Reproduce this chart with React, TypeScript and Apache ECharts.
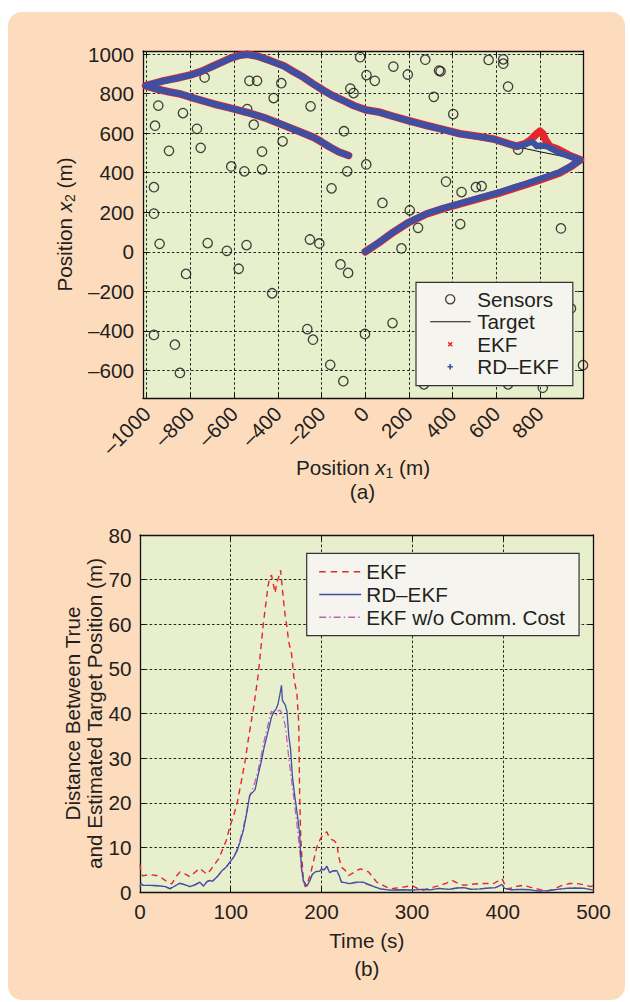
import React, { useEffect, useRef } from 'react';
import * as echarts from 'echarts';

// ---------- Panel (a): sensor field and trajectories ----------
const SENSORS: [number, number][] = [
  [-23, 985], [-735, 882], [-530, 865], [-495, 865], [-384, 853], [6, 894], [44, 865],
  [-68, 826], [-53, 803], [-947, 740], [-834, 702], [-419, 778], [-250, 736], [-540, 722],
  [-962, 638], [-770, 622], [-510, 643], [-97, 610], [-898, 511], [-753, 526], [-378, 559],
  [-472, 507], [-613, 432], [-553, 407], [-472, 417], [5, 442], [-82, 407], [-967, 327],
  [-154, 321], [-967, 193], [79, 247], [-941, 40], [-721, 44], [-633, 5], [-543, 34],
  [-253, 62], [-210, 42], [-113, -64], [-579, -86], [-820, -112], [-78, -107], [-426, -210],
  [-967, -421], [-871, -470], [-848, -613], [-265, -391], [-239, -445], [-160, -572],
  [-100, -655], [-1, -416], [129, 937], [275, 972], [195, 897], [338, 917], [345, 913],
  [565, 971], [632, 974], [632, 952], [654, 836], [314, 784], [403, 697], [700, 517],
  [370, 355], [441, 302], [507, 327], [533, 332], [204, 210], [242, 121], [435, 140],
  [896, 118], [166, 17], [125, -361], [942, -287], [997, -574], [269, -671], [654, -671],
  [813, -688],
];

const TARGET: [number, number][] = [
  [0, 0], [60, 45], [129, 100], [200, 150], [282, 193], [360, 222], [434, 244], [520, 272],
  [616, 302], [680, 325], [738, 345], [800, 370], [890, 403], [940, 432], [985, 465],
  [900, 484], [800, 506], [700, 530], [640, 550], [586, 570], [520, 582], [434, 596],
  [360, 617], [282, 638], [200, 662], [129, 684], [68, 705], [0, 718], [-50, 738],
  [-99, 764], [-150, 790], [-190, 815], [-240, 850], [-282, 882], [-330, 912], [-373, 940],
  [-434, 966], [-490, 988], [-540, 999], [-580, 992], [-616, 979], [-693, 940], [-750, 912],
  [-799, 894], [-860, 878], [-920, 865], [-970, 850], [-1005, 840], [-950, 822], [-900, 810],
  [-845, 798], [-770, 773], [-693, 748], [-620, 728], [-540, 705], [-460, 678], [-388, 647],
  [-310, 612], [-236, 579], [-200, 556], [-160, 529], [-120, 505], [-76, 487],
];

const EKF_TRACK: [number, number][] = [
  [0, 0], [60, 44], [129, 99], [200, 149], [282, 192], [360, 220], [434, 242], [520, 269],
  [616, 298], [680, 321], [738, 341], [800, 364], [890, 399], [940, 430], [985, 465],
  [930, 490], [880, 520], [845, 533], [825, 566], [812, 598], [800, 610], [788, 600],
  [775, 586], [755, 564], [732, 547], [693, 534], [640, 552], [586, 571], [520, 583],
  [434, 597], [360, 618], [282, 639], [200, 663], [129, 685], [68, 706], [0, 719],
  [-50, 739], [-99, 765], [-150, 791], [-190, 816], [-240, 851], [-282, 883], [-330, 913],
  [-373, 941], [-434, 967], [-490, 989], [-540, 1000], [-580, 993], [-616, 980], [-693, 941],
  [-750, 913], [-799, 895], [-860, 879], [-920, 866], [-970, 851], [-1005, 840], [-950, 822],
  [-900, 810], [-845, 798], [-770, 773], [-693, 748], [-620, 728], [-540, 705], [-460, 678],
  [-388, 647], [-310, 612], [-236, 579], [-200, 556], [-160, 529], [-120, 505], [-76, 487],
];

const RDEKF_TRACK: [number, number][] = [
  [0, 0], [60, 45], [129, 100], [200, 150], [282, 193], [360, 222], [434, 244], [520, 272],
  [616, 302], [680, 325], [738, 345], [800, 369], [890, 402], [940, 432], [985, 465],
  [930, 486], [892, 500], [860, 518], [831, 534], [800, 537], [786, 534], [772, 550],
  [763, 556], [750, 552], [740, 547], [700, 533], [640, 551], [586, 570], [520, 582],
  [434, 596], [360, 617], [282, 638], [200, 662], [129, 684], [68, 705], [0, 718],
  [-50, 738], [-99, 764], [-150, 790], [-190, 815], [-240, 850], [-282, 882], [-330, 912],
  [-373, 940], [-434, 966], [-490, 988], [-540, 999], [-580, 992], [-616, 979], [-693, 940],
  [-750, 912], [-799, 894], [-860, 878], [-920, 865], [-970, 850], [-1005, 840], [-950, 822],
  [-900, 810], [-845, 798], [-770, 773], [-693, 748], [-620, 728], [-540, 705], [-460, 678],
  [-388, 647], [-310, 612], [-236, 579], [-200, 556], [-160, 529], [-120, 505], [-76, 487],
];

const X1_TICKS = [-1000, -800, -600, -400, -200, 0, 200, 400, 600, 800];
const X2_TICKS = [-600, -400, -200, 0, 200, 400, 600, 800, 1000];

// ---------- Panel (b): distance error over time ----------
const ERR_EKF: [number, number][] = [
  [0, 6.2], [1, 4.5], [3, 3.6], [10, 3.9], [18, 3.7], [25, 3.0], [30, 2.3], [35, 1.8], [40, 3.5],
  [44, 4.5], [50, 4.0], [55, 3.4], [60, 4.3], [66, 5.3], [70, 4.6], [74, 4.0], [78, 5.0], [83, 6.4],
  [87, 7.5], [90, 9], [95, 11.5], [99, 14.6], [103, 17], [107, 19.8], [111, 24], [116, 29.5],
  [120, 35], [125, 41], [130, 48.2], [133, 54], [136, 60.2], [139, 65], [141, 68.4], [143, 70.5],
  [145, 71], [147, 69], [149, 67], [151, 69.5], [152.5, 70.3], [155, 72.1], [156, 70], [158, 65.8],
  [160, 62], [162, 59.4], [164, 56], [167, 53.5], [170, 47.5], [173, 44.5], [175, 38], [176, 22],
  [177, 14], [178, 9.3], [180, 3], [182, 1.2], [184, 1.5], [187, 3.5], [189, 4.9], [192, 7.5],
  [195, 10.1], [198, 11.5], [200, 12.3], [203, 13], [206, 13.5], [208, 12.5], [211, 11.8],
  [214, 11.5], [217, 10.9], [219, 8], [222, 5.6], [226, 4.9], [230, 3.7], [235, 4.3], [240, 4.9],
  [243, 5.2], [247, 4.9], [252, 4.5], [256, 3.5], [261, 2.2], [268, 1.5], [276, 0.7], [283, 0.9],
  [290, 1.1], [296, 1.3], [301, 1.3], [306, 0.8], [312, 0.4], [320, 0.9], [331, 1.5], [338, 2.0],
  [344, 2.6], [350, 2.0], [357, 1.5], [365, 1.7], [375, 1.9], [383, 1.9], [390, 1.9], [395, 2.5],
  [399, 3.0], [402, 1.8], [404, 0.7], [410, 0.9], [416, 1.3], [423, 1.5], [430, 1.1], [440, 0.6],
  [448, 0.2], [455, 0.5], [462, 1.2], [466, 1.5], [474, 1.9], [481, 1.9], [490, 1.6], [497, 1.2],
  [500, 1.5],
];

const ERR_RDEKF: [number, number][] = [
  [0, 1.2], [1, 2.0], [3, 1.5], [10, 1.5], [20, 1.4], [28, 1.2], [33, 0.7], [38, 1.3], [44, 2.0],
  [50, 1.6], [55, 1.2], [60, 1.6], [66, 2.2], [70, 1.3], [74, 2.4], [77, 2.6], [80, 2.4], [85, 3.4],
  [90, 4.7], [95, 5.6], [99, 6.7], [103, 7.7], [107, 9.2], [110, 11], [114, 13.8], [118, 18],
  [121, 21.7], [125, 22.5], [127, 23], [130, 26], [134, 29.5], [137, 32.5], [140, 35], [143, 37.5],
  [145, 39.2], [148, 40.5], [150, 41], [152, 42], [154, 44], [156, 46.3], [157, 43], [158, 42.6],
  [160, 42], [162, 40.5], [164, 35], [166, 32], [168, 26], [170, 22.5], [172, 19.5], [174, 16.5],
  [176, 13], [177, 9], [178, 5.6], [180, 2.6], [182, 2], [184, 1.3], [187, 2.4], [190, 4],
  [194, 4.6], [198, 4.6], [200, 5.2], [203, 5.0], [206, 5.8], [209, 4.3], [213, 4.8], [217, 4.8],
  [220, 3.5], [222, 2.2], [226, 2.1], [231, 1.9], [238, 2.2], [246, 2.2], [252, 1.7], [258, 1.2],
  [265, 0.7], [276, 0.4], [290, 0.5], [300, 0.4], [310, 0.6], [320, 0.5], [330, 0.8], [340, 0.6],
  [350, 0.9], [357, 1.0], [365, 0.6], [375, 0.7], [385, 0.9], [392, 1.0], [396, 1.4], [399, 1.7],
  [402, 0.8], [410, 0.5], [420, 0.6], [430, 0.5], [440, 0.2], [450, 0.3], [460, 0.6], [470, 0.8],
  [480, 0.9], [490, 0.8], [500, 0.4],
];

const ERR_NOCOMM: [number, number][] = [
  [0, 1.2], [1, 1.9], [3, 1.5], [10, 1.5], [20, 1.4], [28, 1.2], [33, 0.8], [38, 1.3], [44, 1.9],
  [50, 1.6], [55, 1.2], [60, 1.5], [66, 2.1], [70, 1.4], [74, 2.3], [77, 2.5], [80, 2.5], [85, 3.4],
  [90, 4.6], [95, 5.5], [99, 6.6], [103, 7.8], [107, 9.5], [110, 11.5], [114, 14.5], [118, 18.5],
  [121, 21.5], [125, 23.5], [130, 27], [134, 31], [137, 34], [140, 36.5], [143, 39], [145, 40.5],
  [148, 40], [150, 39.5], [152, 40.5], [154, 40.8], [156, 40.2], [158, 39], [160, 37.5], [162, 34],
  [164, 30], [166, 27], [168, 23.5], [170, 20.5], [172, 17], [174, 13.5], [176, 9.5], [178, 5.2],
  [180, 2.4], [182, 1.8], [184, 1.4], [187, 2.5], [190, 3.9], [194, 4.5], [198, 4.7], [200, 5.0],
  [203, 4.9], [206, 5.6], [209, 4.4], [213, 4.7], [217, 4.6], [220, 3.4], [222, 2.3], [226, 2.0],
  [231, 1.8], [238, 2.1], [246, 2.1], [252, 1.6], [258, 1.1], [265, 0.7], [276, 0.4], [290, 0.5],
  [300, 0.4], [310, 0.6], [320, 0.5], [330, 0.8], [340, 0.6], [350, 0.9], [357, 1.0], [365, 0.6],
  [375, 0.7], [385, 0.9], [392, 1.0], [396, 1.3], [399, 1.6], [402, 0.8], [410, 0.5], [420, 0.6],
  [430, 0.5], [440, 0.2], [450, 0.3], [460, 0.6], [470, 0.8], [480, 0.9], [490, 0.8], [500, 0.4],
];

// ---------- styling ----------
const FONT = 'Liberation Sans, Arial, Helvetica, sans-serif';
const INK = '#231f20';
const RED = '#e5262b';
const BLUE = '#3e50a4';
const MAGENTA = '#c45cc0';
const PEACH = '#fddcbe';
const PLOT_BG = '#e7efcd';
const LEGEND_BG = '#f5f4ef';
const FS = 20.7;

const ICON_RING = 'path://M0,0L0,0M44,14L44,14M26.6,7A4.6,4.6,0,1,1,17.4,7A4.6,4.6,0,1,1,26.6,7Z';
const ICON_LINE = 'path://M0,0L0,0M44,14L44,14M2,7L42.5,7';
const ICON_X = 'path://M0,0L0,0M44,14L44,14M20,5L24,9M24,5L20,9';
const ICON_PLUS = 'path://M0,0L0,0M44,14L44,14M22,4.3L22,9.7M19.3,7L24.7,7';
const ICON_DASH = 'path://M0,0L0,0M42,14L42,14M0,7L6.5,7M11.5,7L18,7M23,7L29.5,7M34.5,7L41,7';
const ICON_SOLID = 'path://M0,0L0,0M42,14L42,14M0,7L42,7';
const ICON_DASHDOT = 'path://M0,0L0,0M42,14L42,14M0,7L7,7M10,7L11.5,7M14.5,7L21.5,7M24.5,7L26,7M29,7L36,7M39,7L40.5,7';

const fmtNum = (v: number) => (v < 0 ? '\u2013' + Math.abs(v) : String(v));

const RICH = {
  n: { fontSize: FS, fontFamily: FONT, color: INK, lineHeight: 26 },
  i: { fontSize: FS, fontFamily: FONT, color: INK, lineHeight: 26, fontStyle: 'italic' },
  s: { fontSize: 14, fontFamily: FONT, color: INK, lineHeight: 16, verticalAlign: 'bottom' },
};

const axisLine = { show: true, onZero: false, lineStyle: { color: '#111111', width: 1.3 } };
const tick = (custom?: number[]) => ({
  show: true, inside: true, length: 5, lineStyle: { color: '#111111', width: 1 },
  ...(custom ? { customValues: custom } : {}),
});
const gridLine = { show: true, lineStyle: { color: '#111111', width: 0.9, type: [2.6, 2.2] } };
const labelStyle = { fontSize: FS, fontFamily: FONT, color: INK };

export default function App() {
  const ref = useRef<HTMLDivElement>(null);

  useEffect(() => {
    document.body.style.margin = '0';
    const chart = echarts.init(ref.current!, null, { renderer: 'svg' });

    const option: any = {
      animation: false,
      backgroundColor: '#ffffff',
      textStyle: { fontFamily: FONT },
      graphic: [
        {
          type: 'rect', z: -10, silent: true,
          shape: { x: 8, y: 12, width: 617, height: 988, r: 14 },
          style: { fill: PEACH },
        },
        {
          type: 'text', x: 362.5, y: 491, silent: true,
          style: { text: '(a)', fill: INK, fontSize: FS, fontFamily: FONT, align: 'center', verticalAlign: 'middle', textAlign: 'center', textVerticalAlign: 'middle' },
        },
        {
          type: 'text', x: 366.8, y: 968, silent: true,
          style: { text: '(b)', fill: INK, fontSize: FS, fontFamily: FONT, align: 'center', verticalAlign: 'middle', textAlign: 'center', textVerticalAlign: 'middle' },
        },
      ],
      grid: [
        { left: 143, top: 51, width: 440, height: 347, show: true, backgroundColor: PLOT_BG, borderWidth: 0, containLabel: false, outerBoundsMode: 'none' },
        { left: 140, top: 535, width: 453.5, height: 357, show: true, backgroundColor: PLOT_BG, borderWidth: 0, containLabel: false, outerBoundsMode: 'none' },
      ],
      xAxis: [
        {
          gridIndex: 0, type: 'value', position: 'bottom', min: -1017, max: 997,
          axisLine, axisTick: tick(X1_TICKS), splitLine: gridLine,
          axisLabel: { ...labelStyle, customValues: X1_TICKS, rotate: 45, margin: 12, formatter: fmtNum, showMinLabel: true, showMaxLabel: true },
          name: '{n|Position }{i|x}{s|1}{n| (m)}', nameLocation: 'middle', nameGap: 56, nameMoveOverlap: false,
          nameTextStyle: { fontSize: FS, fontFamily: FONT, color: INK, rich: RICH },
        },
        {
          gridIndex: 0, type: 'value', position: 'top', min: -1017, max: 997,
          axisLine, axisTick: tick(X1_TICKS), splitLine: { show: false }, axisLabel: { show: false },
        },
        {
          gridIndex: 1, type: 'value', position: 'bottom', min: 0, max: 500, interval: 100,
          axisLine, axisTick: tick(), splitLine: gridLine,
          axisLabel: { ...labelStyle, margin: 9, showMinLabel: true, showMaxLabel: true },
          name: 'Time (s)', nameLocation: 'middle', nameGap: 37, nameMoveOverlap: false,
          nameTextStyle: { fontSize: FS, fontFamily: FONT, color: INK, lineHeight: 22 },
        },
        {
          gridIndex: 1, type: 'value', position: 'top', min: 0, max: 500, interval: 100,
          axisLine, axisTick: tick(), splitLine: { show: false }, axisLabel: { show: false },
        },
      ],
      yAxis: [
        {
          gridIndex: 0, type: 'value', position: 'left', min: -740, max: 1016,
          axisLine, axisTick: tick(X2_TICKS), splitLine: gridLine,
          axisLabel: { ...labelStyle, customValues: X2_TICKS, margin: 9, formatter: fmtNum },
          name: '{n|Position }{i|x}{s|2}{n| (m)}', nameLocation: 'middle', nameGap: 66, nameMoveOverlap: false,
          nameTextStyle: { fontSize: FS, fontFamily: FONT, color: INK, rich: RICH },
        },
        {
          gridIndex: 0, type: 'value', position: 'right', min: -740, max: 1016,
          axisLine, axisTick: tick(X2_TICKS), splitLine: { show: false }, axisLabel: { show: false },
        },
        {
          gridIndex: 1, type: 'value', position: 'left', min: 0, max: 80, interval: 10,
          axisLine, axisTick: tick(), splitLine: gridLine,
          axisLabel: { ...labelStyle, margin: 8.5 },
          name: 'Distance Between True\nand Estimated Target Position (m)', nameLocation: 'middle', nameGap: 35, nameMoveOverlap: false,
          nameTextStyle: { fontSize: FS, fontFamily: FONT, color: INK, lineHeight: 22, align: 'center' },
        },
        {
          gridIndex: 1, type: 'value', position: 'right', min: 0, max: 80, interval: 10,
          axisLine, axisTick: tick(), splitLine: { show: false }, axisLabel: { show: false },
        },
      ],
      legend: [
        {
          orient: 'vertical', left: 416, top: 282.3, selectedMode: false,
          padding: [6, 14, 8, 9.7], itemWidth: 44, itemHeight: 14, itemGap: 0.47,
          backgroundColor: LEGEND_BG, borderColor: '#333333', borderWidth: 1.2, borderRadius: 0,
          textStyle: { fontSize: FS, lineHeight: 22, color: INK, fontFamily: FONT },
          data: [
            { name: 'Sensors', icon: ICON_RING, itemStyle: { color: 'none', borderColor: '#111111', borderWidth: 1.3 } },
            { name: 'Target', icon: ICON_LINE, itemStyle: { color: 'none', borderColor: '#111111', borderWidth: 1.2 } },
            { name: 'EKF', icon: ICON_X, itemStyle: { color: 'none', borderColor: RED, borderWidth: 1.6 } },
            { name: 'RD\u2013EKF', icon: ICON_PLUS, itemStyle: { color: 'none', borderColor: BLUE, borderWidth: 1.6 } },
          ],
        },
        {
          orient: 'vertical', left: 306.7, top: 553.3, selectedMode: false,
          padding: [7.4, 14, 7.4, 10], itemWidth: 42, itemHeight: 14, itemGap: 0.8,
          backgroundColor: LEGEND_BG, borderColor: '#333333', borderWidth: 1.2, borderRadius: 0,
          textStyle: { fontSize: FS, lineHeight: 22, color: INK, fontFamily: FONT },
          data: [
            { name: 'EKF', icon: ICON_DASH, itemStyle: { color: 'none', borderColor: RED, borderWidth: 1.4 } },
            { name: 'RD\u2013EKF', icon: ICON_SOLID, itemStyle: { color: 'none', borderColor: BLUE, borderWidth: 1.4 } },
            { name: 'EKF w/o Comm. Cost', icon: ICON_DASHDOT, itemStyle: { color: 'none', borderColor: MAGENTA, borderWidth: 1.4 } },
          ],
        },
      ],
      series: [
        {
          name: 'EKF', type: 'line', xAxisIndex: 2, yAxisIndex: 2, data: ERR_EKF, symbol: 'none',
          lineStyle: { color: RED, width: 1.4, type: [6, 4.5] }, itemStyle: { color: RED },
        },
        {
          name: 'EKF w/o Comm. Cost', type: 'line', xAxisIndex: 2, yAxisIndex: 2, data: ERR_NOCOMM, symbol: 'none',
          lineStyle: { color: MAGENTA, width: 1.3, type: [7, 3, 1.5, 3] }, itemStyle: { color: MAGENTA },
        },
        {
          name: 'RD\u2013EKF', type: 'line', xAxisIndex: 2, yAxisIndex: 2, data: ERR_RDEKF, symbol: 'none',
          lineStyle: { color: BLUE, width: 1.3 }, itemStyle: { color: BLUE },
        },
        {
          name: 'Sensors', type: 'scatter', xAxisIndex: 0, yAxisIndex: 0, data: SENSORS,
          symbol: 'circle', symbolSize: 9.4,
          itemStyle: { color: 'rgba(0,0,0,0)', borderColor: '#111111', borderWidth: 1.3 },
        },
        {
          name: 'Target', type: 'line', xAxisIndex: 0, yAxisIndex: 0, data: TARGET, symbol: 'none',
          lineStyle: { color: '#111111', width: 1 }, itemStyle: { color: '#111111' },
        },
        {
          name: 'EKF', type: 'line', xAxisIndex: 0, yAxisIndex: 0, data: EKF_TRACK, symbol: 'none',
          lineStyle: { color: RED, width: 7.6, cap: 'round', join: 'round' }, itemStyle: { color: RED },
        },
        {
          name: 'RD\u2013EKF', type: 'line', xAxisIndex: 0, yAxisIndex: 0, data: RDEKF_TRACK, symbol: 'none',
          lineStyle: { color: BLUE, width: 6.2, cap: 'round', join: 'round' }, itemStyle: { color: BLUE },
        },
      ],
    };

    chart.setOption(option);
    return () => chart.dispose();
  }, []);

  return <div ref={ref} style={{ width: 630, height: 1002 }} />;
}
